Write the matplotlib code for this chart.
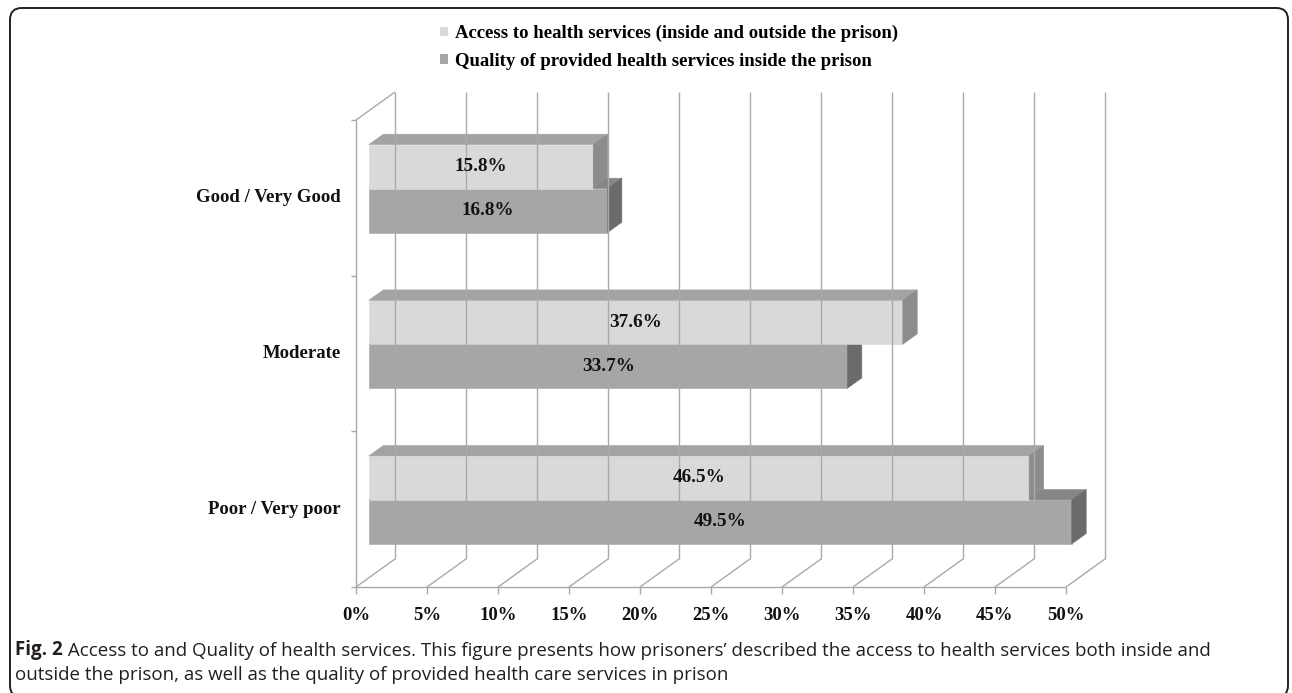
import matplotlib
matplotlib.use("Agg")
import matplotlib.pyplot as plt
from matplotlib.patches import Polygon, Patch, FancyBboxPatch

# data
categories = ["Poor / Very poor", "Moderate", "Good / Very Good"]
access = [46.5, 37.6, 15.8]    # Access to health services (inside and outside the prison)
quality = [49.5, 33.7, 16.8]   # Quality of provided health services inside the prison
series_names = ["Access to health services (inside and outside the prison)",
                "Quality of provided health services inside the prison"]
x_ticks = [0, 5, 10, 15, 20, 25, 30, 35, 40, 45, 50]

# colours
light_front, light_top, light_side = "#d9d9d9", "#a3a3a3", "#8c8c8c"
dark_front, dark_top, dark_side = "#a6a6a6", "#868686", "#6b6b6b"
grid_col = "#a9a9a9"

serif = "Liberation Serif"

fig = plt.figure(figsize=(12.92, 6.93), dpi=100)

# rounded frame around the figure
frame = FancyBboxPatch((10 / 1292, -0.006), 1278 / 1292, 1 - 8 / 693 + 0.006,
                       boxstyle="round,pad=0,rounding_size=0.009",
                       transform=fig.transFigure, facecolor="none",
                       edgecolor="#222222", linewidth=1.4, mutation_aspect=1292 / 693)
fig.patches.append(frame)

# front plane of the 3d box
ax = fig.add_axes([356 / 1292, (693 - 587) / 693, 710 / 1292, 467 / 693])
ax.set_xlim(0, 50)
ax.set_ylim(0, 3)
ax.axis("off")

# depth of the whole box in data units
DX, DY = 2.746, 0.18
t0, t1 = 0.33, 0.70        # bar depth range
bar_h = 0.2827


def P(v, y, t):
    return (v + DX * t, y + DY * t)


def line(p, q, **kw):
    ax.plot([p[0], q[0]], [p[1], q[1]], color=grid_col, lw=1.0, clip_on=False,
            solid_capstyle="butt", **kw)


# back wall gridlines and floor
for v in x_ticks:
    line(P(v, 0, 1), P(v, 3, 1))
    line(P(v, 0, 0), P(v, 0, 1))
    line(P(v, 0, 0), P(v, -0.045, 0))
line(P(0, 0, 0), P(50, 0, 0))
# left wall
line(P(0, 0, 0), P(0, 3, 0))
line(P(0, 3, 0), P(0, 3, 1))
for y in range(4):
    line(P(0, y, 0), P(-0.35, y, 0))


def box(v, ylo, yhi, front, top, side):
    faces = [
        ([P(0, ylo, t0), P(v, ylo, t0), P(v, yhi, t0), P(0, yhi, t0)], front),
        ([P(0, yhi, t0), P(v, yhi, t0), P(v, yhi, t1), P(0, yhi, t1)], top),
        ([P(v, ylo, t0), P(v, ylo, t1), P(v, yhi, t1), P(v, yhi, t0)], side),
    ]
    for pts, c in faces:
        ax.add_patch(Polygon(pts, closed=True, facecolor=c, edgecolor=c,
                             lw=0.4, clip_on=False))


for i, cat in enumerate(categories):
    c = i + 0.5
    box(quality[i], c - bar_h, c, dark_front, dark_top, dark_side)
    box(access[i], c, c + bar_h, light_front, light_top, light_side)
    for v, yc in [(quality[i], c - bar_h / 2), (access[i], c + bar_h / 2)]:
        x, y = P(v / 2, yc, t0)
        ax.text(x, y, f"{v:.1f}%", ha="center", va="center", family=serif,
                weight="bold", fontsize=13.8, color="#111111")
    ax.text(-1.05, c, cat, ha="right", va="center", family=serif,
            weight="bold", fontsize=13.5, color="#111111")

for v in x_ticks:
    ax.text(v, -0.186, f"{v}%", ha="center", va="center", family=serif,
            weight="bold", fontsize=13.5, color="#111111")

# legend
handles = [Patch(facecolor=light_front, edgecolor="none"),
           Patch(facecolor=dark_front, edgecolor="none")]
leg = fig.legend(handles, series_names, loc="upper left",
                 bbox_to_anchor=(440 / 1292, 1 - 25 / 693), frameon=False,
                 prop={"family": serif, "weight": "bold", "size": 13.5},
                 handlelength=0.42, handleheight=0.42, handletextpad=0.37,
                 labelspacing=0.55, borderaxespad=0, borderpad=0)

# caption
cap_font = dict(family="Open Sans", fontsize=13.5, color="#231f20")
t1_txt = fig.text(15 / 1292, 1 - 655 / 693, "Fig. 2", weight="bold",
                  va="baseline", **cap_font)
ax.annotate(" Access to and Quality of health services. This figure presents how "
            "prisoners\u2019 described the access to health services both inside and",
            xy=(1, 0), xycoords=t1_txt, xytext=(0, 0), textcoords="offset points",
            va="bottom", annotation_clip=False, **cap_font)
fig.text(15 / 1292, 1 - 680 / 693,
         "outside the prison, as well as the quality of provided health care services in prison",
         va="baseline", **cap_font)

fig.savefig("out.png", dpi=100)
